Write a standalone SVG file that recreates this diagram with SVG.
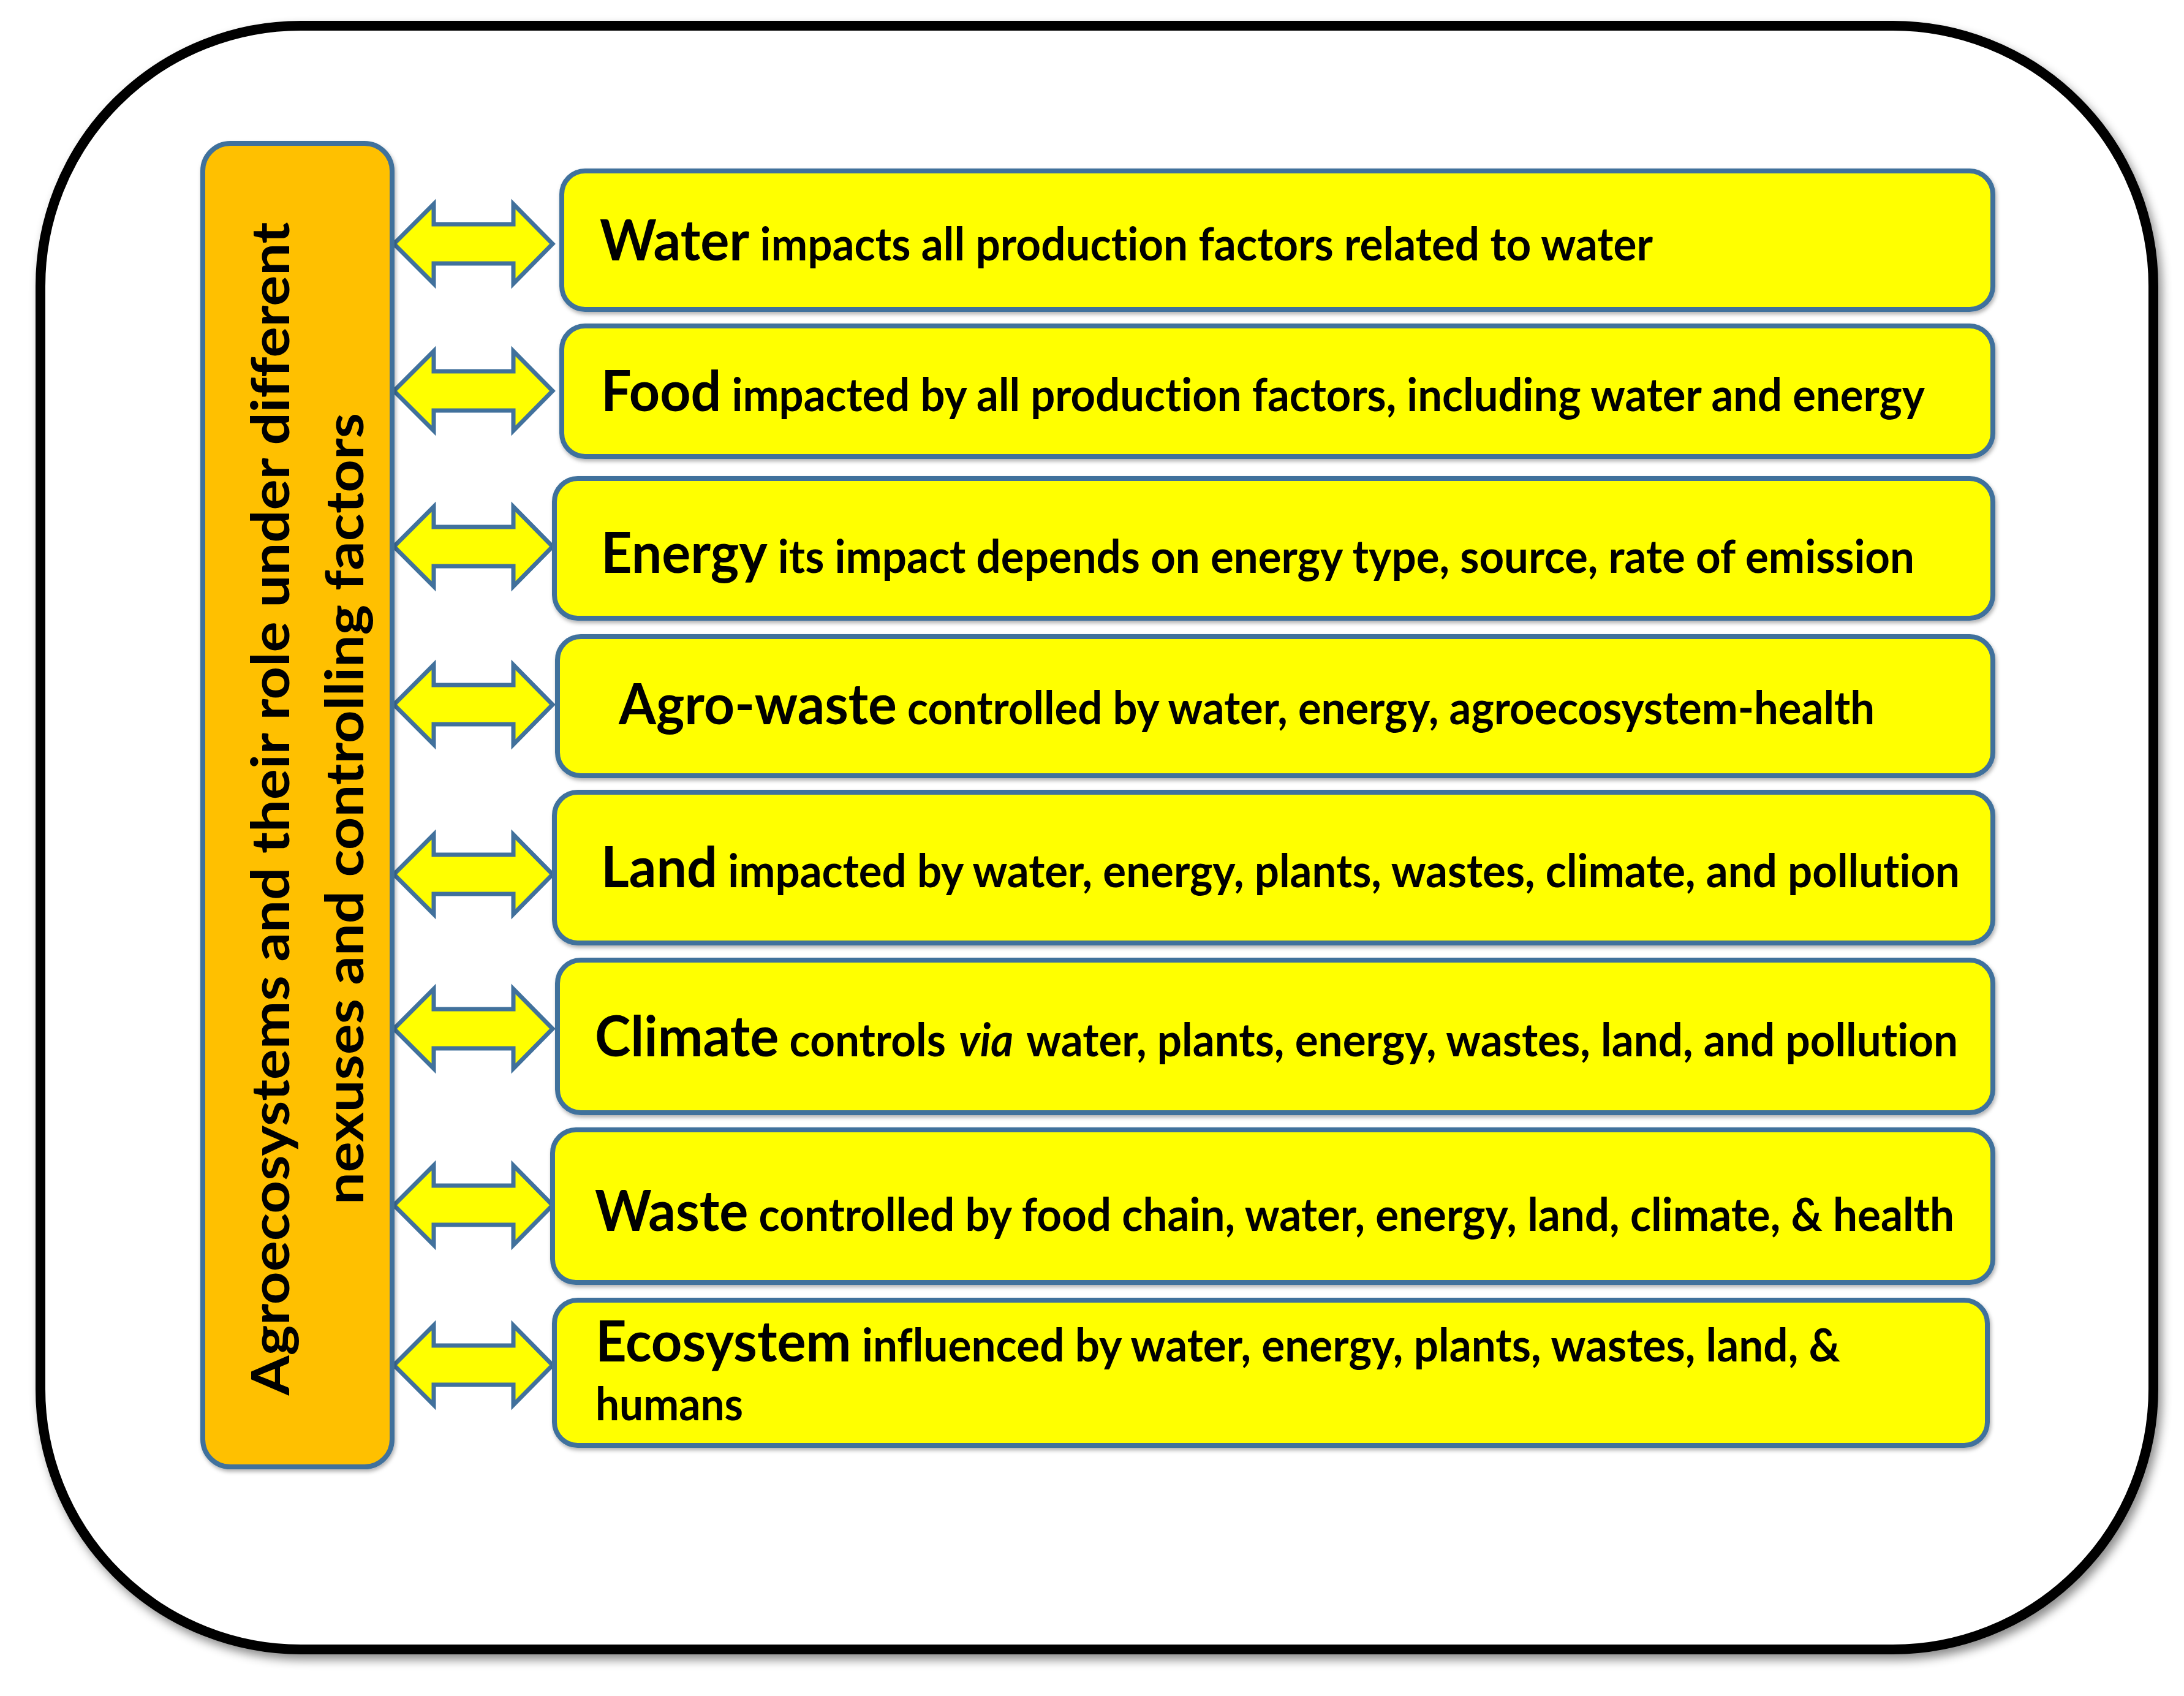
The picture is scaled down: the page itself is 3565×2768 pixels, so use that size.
<svg xmlns="http://www.w3.org/2000/svg" xmlns:xlink="http://www.w3.org/1999/xlink" width="3565" height="2768" viewBox="0 0 3565 2768">
  <style>
    .box { fill: #FFFF00; stroke: #41719C; stroke-width: 8; }
    .side { fill: #FFC000; stroke: #41719C; stroke-width: 8; }
    .arrow { fill: #FFFF00; stroke: #41719C; stroke-width: 7; stroke-linejoin: miter; }
    .t { font-family: Lato, "Open Sans", "Liberation Sans", sans-serif; font-weight: bold; fill: #000; font-variant-ligatures: none; }
    .name { font-size: 92px; }
    .desc { font-size: 74px; }
    .vt { font-family: Lato, "Open Sans", "Liberation Sans", sans-serif; font-weight: bold; font-size: 86px; fill: #000; font-variant-ligatures: none; }
  </style>
  <defs>
    <filter id="outerShadow" x="-5%" y="-5%" width="110%" height="110%">
      <feDropShadow dx="6" dy="9" stdDeviation="8" flood-color="#000" flood-opacity="0.45"/>
    </filter>
    <filter id="boxShadow" x="-5%" y="-10%" width="110%" height="125%">
      <feDropShadow dx="2" dy="4" stdDeviation="3" flood-color="#000" flood-opacity="0.3"/>
    </filter>
    <path id="dbl" class="arrow" d="M643,0 L708,-65 L708,-32 L838,-32 L838,-65 L902,0 L838,65 L838,32 L708,32 L708,65 Z"/>
  </defs>

  <rect width="3565" height="2768" fill="#FFFFFF"/>

  <g id="frame">
    <rect x="66" y="42" width="3449" height="2650" rx="425" ry="425" fill="#FFFFFF" stroke="#000" stroke-width="16" filter="url(#outerShadow)"/>
  </g>

  <g id="connectors">
    <use xlink:href="#dbl" href="#dbl" y="398"/>
    <use xlink:href="#dbl" href="#dbl" y="638"/>
    <use xlink:href="#dbl" href="#dbl" y="892"/>
    <use xlink:href="#dbl" href="#dbl" y="1150"/>
    <use xlink:href="#dbl" href="#dbl" y="1427"/>
    <use xlink:href="#dbl" href="#dbl" y="1679"/>
    <use xlink:href="#dbl" href="#dbl" y="1967"/>
    <use xlink:href="#dbl" href="#dbl" y="2228"/>
  </g>

  <g id="agroecosystems">
    <rect class="side" x="331" y="234" width="309" height="2160" rx="45" ry="45" filter="url(#boxShadow)"/>
    <text class="vt" x="472" y="1320" text-anchor="middle" transform="rotate(-90 472 1320)" textLength="1915" lengthAdjust="spacingAndGlyphs">Agroecosystems and their role under different</text>
    <text class="vt" x="593" y="1320" text-anchor="middle" transform="rotate(-90 593 1320)" textLength="1292" lengthAdjust="spacingAndGlyphs">nexuses and controlling factors</text>
  </g>

  <g id="water">
    <rect class="box" x="917" y="279" width="2336" height="226" rx="38" ry="38" filter="url(#boxShadow)"/>
    <text class="t" x="979" y="425" textLength="1719" lengthAdjust="spacingAndGlyphs"><tspan class="name">Water</tspan><tspan class="desc"> impacts all production factors related to water</tspan></text>
  </g>

  <g id="food">
    <rect class="box" x="917" y="532" width="2336" height="213" rx="38" ry="38" filter="url(#boxShadow)"/>
    <text class="t" x="981" y="671" textLength="2161" lengthAdjust="spacingAndGlyphs"><tspan class="name">Food</tspan><tspan class="desc"> impacted by all production factors, including water and energy</tspan></text>
  </g>

  <g id="energy">
    <rect class="box" x="905" y="781" width="2348" height="228" rx="38" ry="38" filter="url(#boxShadow)"/>
    <text class="t" x="981" y="935" textLength="2144" lengthAdjust="spacingAndGlyphs"><tspan class="name">Energy</tspan><tspan class="desc"> its impact depends on energy type, source, rate of emission</tspan></text>
  </g>

  <g id="agro-waste">
    <rect class="box" x="910" y="1039" width="2343" height="227" rx="38" ry="38" filter="url(#boxShadow)"/>
    <text class="t" x="1010" y="1182" textLength="2050" lengthAdjust="spacingAndGlyphs"><tspan class="name">Agro-waste</tspan><tspan class="desc"> controlled by water, energy, agroecosystem-health</tspan></text>
  </g>

  <g id="land">
    <rect class="box" x="905" y="1293" width="2348" height="246" rx="38" ry="38" filter="url(#boxShadow)"/>
    <text class="t" x="981" y="1448" textLength="2218" lengthAdjust="spacingAndGlyphs"><tspan class="name">Land</tspan><tspan class="desc"> impacted by water, energy, plants, wastes, climate, and pollution</tspan></text>
  </g>

  <g id="climate">
    <rect class="box" x="910" y="1567" width="2343" height="249" rx="38" ry="38" filter="url(#boxShadow)"/>
    <text class="t" x="971" y="1724" textLength="2225" lengthAdjust="spacingAndGlyphs"><tspan class="name">Climate</tspan><tspan class="desc"> controls</tspan><tspan class="desc" font-style="italic" dx="22">via</tspan><tspan class="desc" dx="22">water, plants, energy, wastes, land, and pollution</tspan></text>
  </g>

  <g id="waste">
    <rect class="box" x="902" y="1844" width="2351" height="249" rx="38" ry="38" filter="url(#boxShadow)"/>
    <text class="t" x="971" y="2009" textLength="2219" lengthAdjust="spacingAndGlyphs"><tspan class="name">Waste</tspan><tspan class="desc"> controlled by food chain, water, energy, land, climate, &amp; health</tspan></text>
  </g>

  <g id="ecosystem">
    <rect class="box" x="905" y="2122" width="2339" height="237" rx="38" ry="38" filter="url(#boxShadow)"/>
    <text class="t" x="972" y="2222" textLength="2032" lengthAdjust="spacingAndGlyphs"><tspan class="name">Ecosystem</tspan><tspan class="desc"> influenced by water, energy, plants, wastes, land, &amp;</tspan></text>
    <text class="t desc" x="972" y="2318" textLength="241" lengthAdjust="spacingAndGlyphs">humans</text>
  </g>
</svg>
